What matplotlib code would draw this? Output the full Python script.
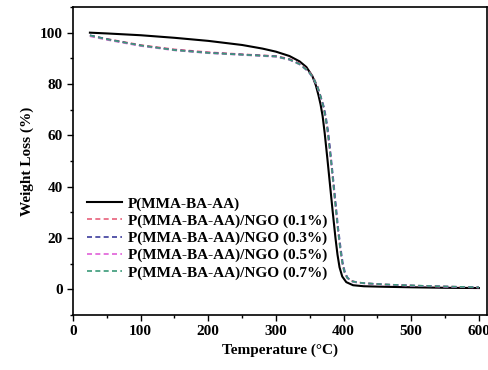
import matplotlib.pyplot as plt
from matplotlib.ticker import MultipleLocator

plt.rcParams['font.family'] = ['Liberation Serif', 'DejaVu Serif']
plt.rcParams['font.weight'] = 'bold'

# temperature (C) and weight (%)
t_pure = [25, 50, 100, 150, 200, 250, 280, 300, 320, 335, 345, 354, 359, 363, 366, 369,
          372, 376, 380, 384, 388, 391, 394, 398, 404, 414, 430, 460, 500, 550, 600]
w_pure = [100, 99.7, 99, 98, 96.8, 95.2, 93.8, 92.6, 90.9, 88.8, 86.6, 83, 79.5, 75.5, 72, 67.5,
          61, 51, 40.5, 30, 20, 13.5, 8.6, 5, 2.8, 1.6, 1.2, 1.0, 0.8, 0.6, 0.5]

t_01 = [25, 50, 100, 150, 200, 250, 300, 320, 335, 348, 356, 362, 366, 370, 373, 376,
        379, 383, 387, 391, 395, 398, 401, 405, 411, 420, 430, 460, 500, 550, 600]
w_01 = [98.8, 97.6, 95.2, 93.5, 92.4, 91.6, 90.9, 89.8, 88.0, 85.2, 82.3, 78.8, 75.2, 71.5, 67.5, 62.5,
        56, 46, 35.5, 25, 16, 10.5, 7, 4.6, 3.3, 2.8, 2.4, 1.9, 1.5, 1.1, 0.8]

t_03 = [25, 50, 100, 150, 200, 250, 300, 320, 335, 348, 356, 362, 367, 371, 374, 377,
        380, 384, 388, 392, 396, 399, 402, 406, 412, 420, 430, 460, 500, 550, 600]
w_03 = [99, 97.5, 95, 93.3, 92.2, 91.5, 90.8, 89.6, 87.8, 85, 82, 78.5, 74.5, 71, 67, 62,
        55, 45, 34.5, 24, 15.5, 10, 6.8, 4.5, 3.2, 2.7, 2.4, 1.9, 1.5, 1.1, 0.8]

t_05 = [25, 50, 100, 150, 200, 250, 300, 320, 335, 348, 356, 362, 366, 370, 373, 376,
        379, 383, 387, 391, 395, 398, 401, 405, 411, 420, 430, 460, 500, 550, 600]
w_05 = [98.6, 97.2, 94.8, 93.1, 92.0, 91.3, 90.6, 89.4, 87.6, 84.8, 81.8, 78.3, 74.8, 71, 67, 62,
        55.5, 45.5, 35, 24.5, 15.5, 10.2, 6.8, 4.5, 3.1, 2.6, 2.3, 1.8, 1.4, 1.0, 0.7]

t_07 = [25, 50, 100, 150, 200, 250, 300, 320, 335, 348, 356, 362, 366, 370, 373, 376,
        379, 383, 387, 391, 395, 398, 401, 405, 411, 420, 430, 460, 500, 550, 600]
w_07 = [98.9, 97.4, 95.0, 93.2, 92.1, 91.4, 90.7, 89.5, 87.7, 84.9, 82, 78.5, 75, 71.2, 67.2, 62.2,
        55.8, 45.8, 35.2, 24.8, 15.8, 10.4, 6.9, 4.6, 3.2, 2.7, 2.4, 1.9, 1.5, 1.1, 0.8]

labels = ["P(MMA-BA-AA)", "P(MMA-BA-AA)/NGO (0.1%)", "P(MMA-BA-AA)/NGO (0.3%)",
          "P(MMA-BA-AA)/NGO (0.5%)", "P(MMA-BA-AA)/NGO (0.7%)"]

fig = plt.figure(figsize=(4.89, 3.70), dpi=100)
ax = fig.add_axes([73 / 489, 55 / 370, 414 / 489, 308 / 370])

ax.plot(t_pure, w_pure, color="black", lw=1.5, label=labels[0])
ax.plot(t_01, w_01, color="#e8607a", lw=1.2, ls=(0, (3, 2)), label=labels[1])
ax.plot(t_03, w_03, color="#3c3c9c", lw=1.2, ls=(0, (3, 2)), label=labels[2])
ax.plot(t_05, w_05, color="#e060d8", lw=1.2, ls=(0, (3, 2)), label=labels[3])
ax.plot(t_07, w_07, color="#3a9a78", lw=1.2, ls=(0, (3, 2)), label=labels[4])

ax.set_xlim(0, 612)
ax.set_ylim(-10, 110)
ax.xaxis.set_major_locator(MultipleLocator(100))
ax.xaxis.set_minor_locator(MultipleLocator(50))
ax.yaxis.set_major_locator(MultipleLocator(20))
ax.yaxis.set_minor_locator(MultipleLocator(10))
ax.tick_params(which="both", direction="out", top=False, right=False, labelsize=11)
ax.tick_params(which="major", length=4, width=1)
ax.tick_params(which="minor", length=2.5, width=1)
for s in ax.spines.values():
    s.set_linewidth(1.2)

ax.set_xlabel("Temperature (\u00b0C)", fontsize=11, fontweight="bold")
ax.set_ylabel("Weight Loss (%)", fontsize=11, fontweight="bold")

ax.legend(loc="lower left", bbox_to_anchor=(0.005, 0.075), frameon=False, fontsize=11,
          handlelength=2.3, handletextpad=0.35, labelspacing=0.22, borderpad=0.3)

fig.savefig("out.png", dpi=100)
